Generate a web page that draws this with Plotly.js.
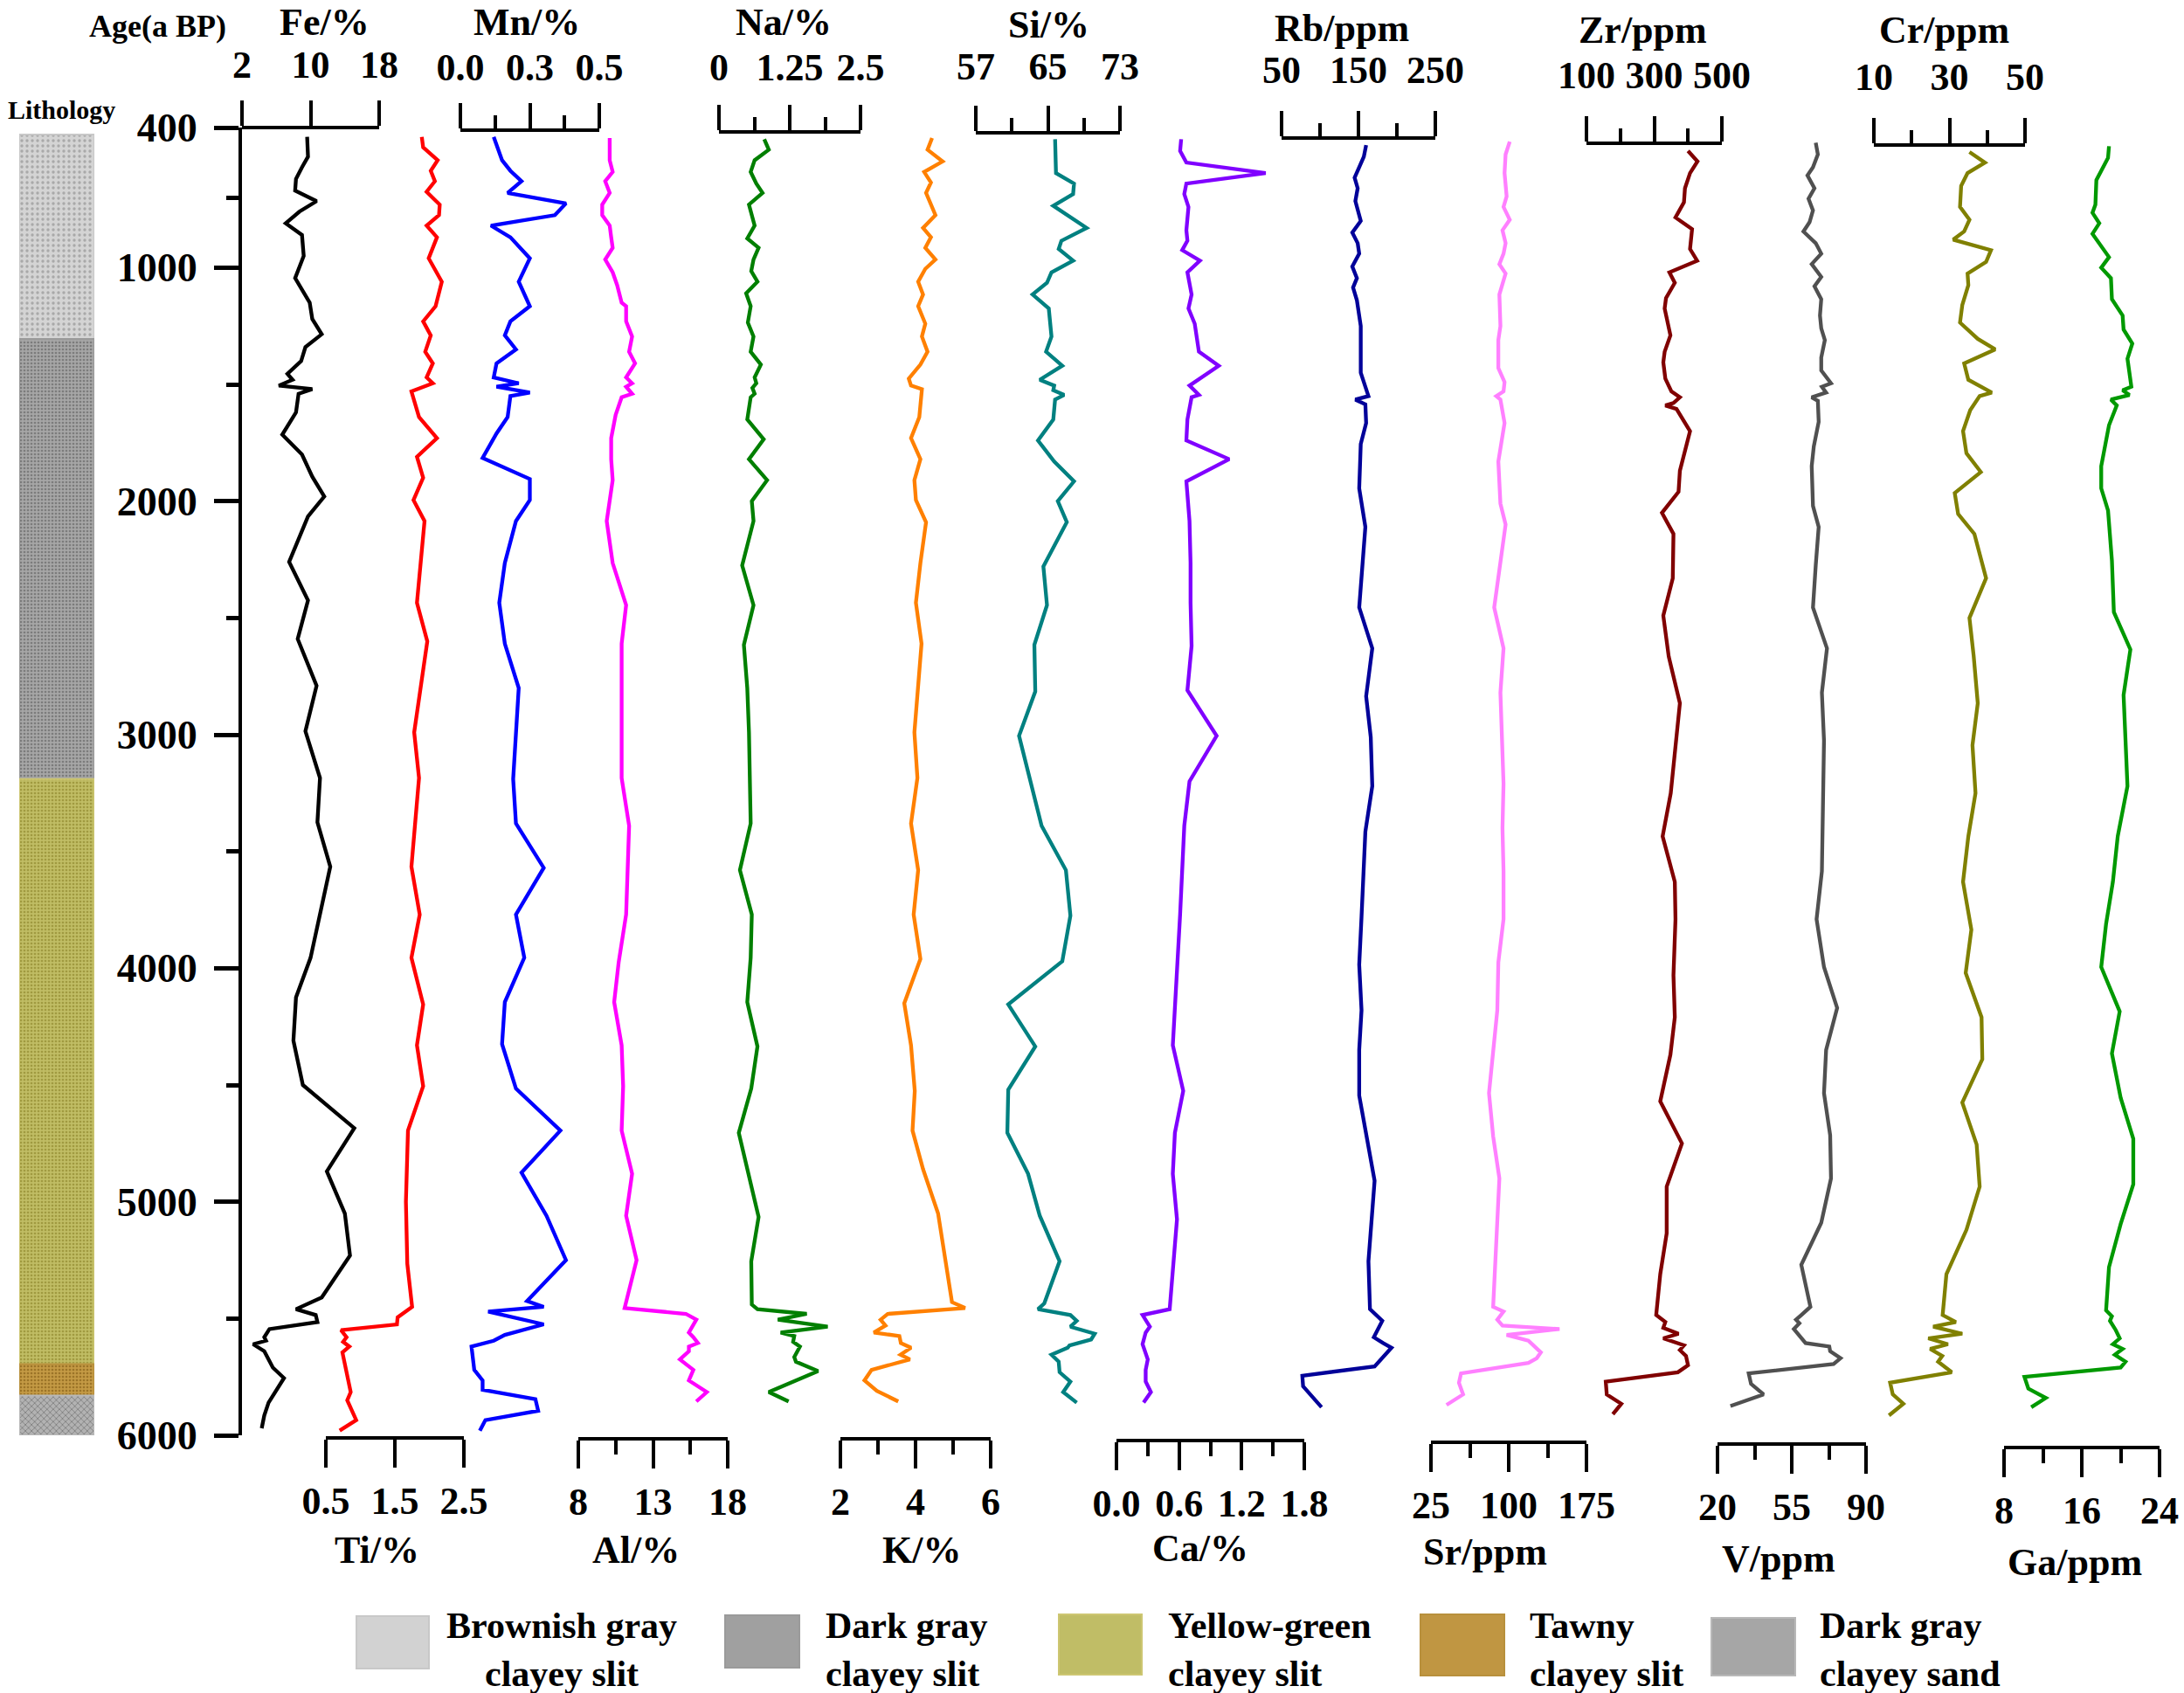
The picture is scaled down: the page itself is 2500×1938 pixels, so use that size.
<!DOCTYPE html>
<html>
<head>
<meta charset="utf-8">
<script src="https://cdn.plot.ly/plotly-3.0.1.min.js"></script>
<style>
  body { margin: 0; background: #fff; }
  #chart { width: 2500px; height: 1938px; }
</style>
</head>
<body>
<div id="chart"></div>
<script>
// ---- data (age in a BP, values in axis units) ----
var feAge = [440,525,570,620,670,715,760,810,860,950,1045,1150,1220,1285,1340,1400,1455,1480,1505,1520,1540,1620,1715,1800,1895,1980,2065,2260,2425,2590,2790,2985,3185,3375,3565,3955,4125,4310,4500,4685,4870,5050,5230,5410,5460,5485,5515,5545,5580,5595,5610,5640,5710,5755,5860,5915,5970];
var feVal = [9.6,9.7,9.0,8.3,8.2,10.7,8.7,7.1,9.0,9.2,8.2,9.9,10.2,11.3,9.4,8.9,7.3,7.9,6.3,10.2,8.6,8.3,6.7,9.0,10.2,11.6,9.7,7.5,9.7,8.5,10.7,9.4,11.1,10.8,12.3,10.0,8.3,8.0,9.1,15.1,11.9,14.0,14.6,11.3,8.3,10.6,10.8,5.2,4.6,4.8,3.3,4.6,5.6,6.9,5.1,4.6,4.3];

var tiAge = [440,485,540,585,630,675,730,775,820,870,960,1060,1165,1230,1290,1360,1410,1470,1495,1530,1640,1730,1810,1900,1995,2085,2435,2600,2990,3185,3565,3770,3955,4155,4330,4505,4695,5000,5265,5450,5495,5525,5550,5580,5600,5620,5645,5750,5815,5850,5935,5980];
var tiVal = [1.89,1.91,2.12,2.02,2.08,1.96,2.15,2.14,1.96,2.11,1.99,2.18,2.09,1.91,2.02,1.94,2.05,1.96,2.05,1.74,1.85,2.11,1.82,1.91,1.77,1.93,1.82,1.97,1.78,1.85,1.74,1.86,1.74,1.91,1.82,1.91,1.69,1.66,1.68,1.75,1.54,1.53,0.72,0.80,0.75,0.84,0.74,0.81,0.86,0.81,0.94,0.70];

var mnAge = [440,540,585,630,680,725,775,820,870,960,1060,1165,1230,1290,1350,1410,1470,1495,1510,1535,1550,1640,1710,1815,1905,1995,2085,2265,2435,2610,2800,3000,3190,3380,3570,3770,3955,4145,4325,4515,4695,4875,5060,5250,5425,5450,5470,5525,5570,5595,5620,5720,5765,5805,5845,5895,5935,5980];
var mnVal = [0.12,0.15,0.18,0.22,0.17,0.38,0.34,0.11,0.18,0.25,0.21,0.25,0.18,0.16,0.20,0.13,0.12,0.21,0.13,0.25,0.18,0.17,0.13,0.08,0.25,0.25,0.20,0.16,0.14,0.16,0.21,0.20,0.19,0.20,0.30,0.20,0.23,0.16,0.15,0.20,0.36,0.22,0.31,0.38,0.24,0.30,0.10,0.30,0.16,0.12,0.04,0.05,0.08,0.08,0.27,0.28,0.09,0.07];

var alAge = [445,540,590,630,680,730,775,820,870,915,965,1020,1075,1150,1165,1230,1295,1360,1410,1470,1495,1510,1540,1555,1630,1730,1820,1910,2085,2265,2445,2610,2800,3185,3390,3770,3975,4145,4330,4505,4695,4880,5060,5250,5455,5480,5505,5560,5580,5605,5620,5640,5675,5720,5765,5815,5855];
var alVal = [10.1,10.1,10.3,9.8,10.1,9.6,9.6,10.1,10.2,10.3,9.8,10.3,10.6,10.9,11.2,11.2,11.6,11.4,11.8,11.2,11.6,11.2,11.6,10.9,10.5,10.2,10.2,10.3,9.9,10.3,11.2,10.9,10.9,10.9,11.4,11.2,10.7,10.4,10.9,11.0,10.9,11.6,11.2,11.9,11.1,15.2,15.9,15.4,15.7,16.0,15.4,15.4,14.8,15.7,15.4,16.6,15.9];

var naAge = [450,495,540,590,640,680,730,820,875,915,965,1015,1060,1110,1165,1235,1295,1360,1415,1470,1495,1515,1540,1555,1650,1735,1820,1910,2000,2085,2275,2445,2615,2800,2990,3380,3580,3770,3955,4145,4335,4515,4705,5065,5255,5440,5460,5480,5505,5535,5560,5575,5600,5620,5665,5685,5725,5765,5815,5855];
var naVal = [0.80,0.88,0.63,0.56,0.66,0.77,0.53,0.63,0.50,0.70,0.61,0.57,0.68,0.48,0.56,0.51,0.61,0.56,0.74,0.63,0.66,0.59,0.63,0.56,0.50,0.79,0.53,0.85,0.58,0.61,0.41,0.61,0.44,0.50,0.53,0.56,0.37,0.58,0.56,0.50,0.68,0.57,0.35,0.70,0.57,0.58,0.68,1.55,1.04,1.92,1.09,1.33,1.31,1.43,1.33,1.36,1.75,1.37,0.88,1.23];

var kAge = [445,495,545,590,635,680,775,830,870,915,965,1005,1060,1115,1165,1240,1295,1360,1415,1475,1505,1520,1640,1730,1820,1910,1995,2090,2265,2435,2610,2810,2990,3185,3380,3580,3770,3960,4150,4330,4525,4695,4860,5050,5430,5455,5480,5505,5530,5560,5575,5605,5625,5655,5675,5720,5765,5810,5855];
var kVal = [4.44,4.32,4.72,4.23,4.41,4.28,4.53,4.20,4.41,4.26,4.53,4.26,4.07,4.20,4.07,4.26,4.17,4.32,4.13,3.82,3.88,4.17,4.10,3.88,4.13,3.97,4.01,4.28,4.13,4.01,4.16,4.07,3.97,4.05,3.88,4.07,3.95,4.13,3.70,3.88,3.98,3.92,4.20,4.60,4.97,5.32,3.26,3.07,3.20,2.89,3.57,3.61,3.88,3.60,3.85,2.83,2.64,2.97,3.54];

var siAge = [450,595,640,685,735,830,885,920,970,1020,1065,1115,1175,1295,1360,1420,1480,1505,1525,1545,1565,1650,1740,1830,1915,2000,2090,2280,2445,2615,2815,3005,3390,3580,3775,3970,4155,4335,4520,4705,4880,5060,5255,5435,5460,5485,5510,5535,5565,5590,5615,5625,5655,5685,5730,5770,5815,5860];
var siVal = [65.8,65.9,67.9,67.8,65.6,69.3,66.5,66.2,67.8,65.4,64.9,63.3,65.1,65.4,64.8,66.6,64.1,65.7,65.6,66.8,65.8,65.6,63.9,65.7,67.9,66.1,67.1,64.5,64.9,63.5,63.6,61.8,64.3,67.0,67.5,66.6,60.6,63.6,60.6,60.5,62.8,64.1,66.3,64.6,63.9,67.5,68.2,67.5,70.2,69.8,67.4,67.2,65.4,66.2,66.3,67.5,66.7,68.2];

var caAge = [450,500,550,595,640,685,740,840,885,925,970,1020,1115,1175,1240,1360,1420,1505,1545,1555,1650,1740,1820,1915,2085,2265,2435,2620,2810,3005,3200,3390,3770,4330,4525,4705,4880,5075,5460,5485,5535,5560,5610,5675,5720,5770,5815,5860];
var caVal = [0.62,0.61,0.67,1.43,0.67,0.65,0.69,0.67,0.68,0.63,0.80,0.68,0.72,0.69,0.75,0.79,0.98,0.70,0.79,0.72,0.68,0.67,1.08,0.67,0.70,0.71,0.71,0.72,0.68,0.96,0.70,0.65,0.61,0.54,0.64,0.56,0.54,0.58,0.51,0.25,0.32,0.28,0.25,0.30,0.28,0.28,0.33,0.26];

var rbAge = [475,525,615,660,715,800,850,895,940,995,1045,1085,1140,1250,1450,1505,1550,1565,1585,1665,1755,1945,2110,2455,2630,2835,3010,3220,3415,3780,3985,4180,4350,4545,4910,5255,5460,5510,5580,5605,5625,5705,5745,5790,5880];
var rbVal = [160,157,145,149,146,153,142,149,151,142,148,143,148,153,153,159,163,146,159,160,153,151,159,151,168,160,166,168,159,154,151,154,151,151,171,163,165,181,170,182,193,171,77,78,102];

var srAge = [460,515,595,695,740,795,840,895,940,985,1025,1115,1250,1310,1430,1490,1530,1550,1565,1665,1830,2010,2100,2455,2630,2820,3210,3400,3585,3790,3975,4180,4535,4720,4900,5095,5450,5470,5505,5530,5545,5570,5595,5645,5670,5690,5735,5775,5825,5870];
var srVal = [101,97,96,98,95,101,94,97,95,91,97,91,92,90,90,96,95,88,92,96,90,92,97,86,95,92,95,94,95,95,90,89,81,85,91,89,85,95,89,94,149,98,119,131,127,119,54,52,56,40];

var zrAge = [500,545,595,660,720,785,835,920,970,1020,1065,1130,1175,1290,1360,1405,1475,1530,1555,1580,1590,1605,1700,1870,1960,2050,2140,2330,2490,2665,2865,3250,3435,3630,3790,4030,4210,4370,4570,4750,4935,5135,5310,5485,5515,5540,5565,5585,5615,5635,5660,5700,5730,5770,5825,5865,5910];
var zrVal = [400,428,406,391,388,363,412,406,427,345,361,335,331,348,331,327,333,351,376,357,333,366,406,376,372,323,357,355,327,343,376,349,325,361,363,357,361,348,318,382,337,337,318,306,333,327,372,327,388,376,394,400,370,157,160,203,178];

var vAge = [465,515,570,605,660,705,755,805,845,895,940,985,1040,1080,1135,1205,1260,1310,1385,1440,1495,1510,1535,1555,1570,1660,1765,1850,2020,2110,2275,2455,2630,2820,3025,3305,3585,3790,3995,4170,4350,4535,4715,4900,5090,5270,5450,5485,5505,5520,5545,5605,5620,5640,5670,5695,5735,5780,5825,5875];
var vVal = [66.3,67.3,65.0,62.4,65.7,62.9,65.0,63.4,60.5,66.3,68.9,64.4,68.9,65.7,68.9,68.3,68.9,70.6,68.9,68.9,73.5,69.2,71.2,64.4,67.3,67.7,65.4,64.4,65.0,67.7,66.3,65.0,71.6,69.2,70.2,69.6,69.2,66.7,70.2,76.4,71.2,70.2,73.1,73.5,68.9,59.5,63.8,59.5,57.0,58.6,56.0,61.5,72.7,73.1,78.0,74.7,34.7,35.8,41.7,26.1];

var crAge = [505,550,595,650,740,795,845,880,925,975,1025,1075,1160,1235,1305,1350,1410,1480,1535,1550,1610,1700,1795,1875,1965,2055,2140,2330,2500,2660,2865,3045,3250,3435,3630,3835,4020,4210,4390,4575,4755,4935,5120,5310,5485,5515,5535,5565,5585,5610,5630,5660,5685,5730,5775,5825,5865,5915];
var crVal = [35.3,39.4,34.8,33.1,32.8,35.3,33.9,31.0,41.0,39.7,34.8,35.0,33.4,32.8,37.5,42.1,33.9,35.0,41.2,38.0,35.5,33.6,34.5,38.3,31.4,32.3,36.6,39.7,35.3,36.4,37.5,36.1,36.9,35.0,33.6,35.8,34.3,38.5,38.7,33.4,37.2,38.0,34.5,29.2,28.2,31.7,25.7,33.4,24.4,29.6,24.9,28.1,27.0,30.6,14.3,15.0,17.8,14.0];

var gaAge = [480,530,625,730,765,810,855,905,955,1000,1045,1135,1205,1265,1325,1390,1510,1525,1545,1565,1590,1675,1850,1945,2040,2255,2475,2635,2830,3220,3435,3630,3810,3995,4185,4365,4555,4730,4925,5095,5280,5465,5490,5510,5550,5585,5610,5630,5655,5685,5710,5750,5800,5840,5880];
var gaVal = [18.8,18.7,17.5,17.4,17.1,17.8,17.1,18.0,18.8,18.0,19.0,19.1,20.2,20.3,21.2,20.7,21.1,20.2,20.9,19.0,19.6,18.8,18.0,18.0,18.7,19.1,19.3,21.0,20.3,20.7,19.7,19.2,18.5,18.0,19.9,19.1,20.0,21.3,21.3,20.0,18.8,18.5,19.1,18.9,19.5,19.9,19.2,20.2,19.4,20.5,20.0,10.1,10.5,12.3,10.8];

// lithology column
var lithoTop    = [430, 1305, 3190, 5695, 5830];
var lithoBottom = [1305, 3190, 5695, 5830, 6000];
var lithoName   = ['Brownish gray<br>clayey slit', 'Dark gray<br>clayey slit', 'Yellow-green<br>clayey slit', 'Tawny<br>clayey slit', 'Dark gray<br>clayey sand'];

// age axis ticks
var ageMajor = [400, 1000, 2000, 3000, 4000, 5000, 6000];
var ageMinor = [700, 1500, 2500, 3500, 4500, 5500];

// ---- page geometry (pixels of the 2500 x 1938 figure) ----
var W = 2500, H = 1938;
function fx(p) { return p / W; }
function fy(p) { return 1 - p / H; }

var serif = 'Liberation Serif, Times New Roman, serif';
var tickFont = {family: serif, size: 44, color: 'black', weight: 'bold'};
var titleFont = {family: serif, size: 44, color: 'black', weight: 'bold'};

function elemAxis(side, x0, x1, yLine, range, major, labels, minor, standoff) {
    var ax = {
        domain: [fx(x0), fx(x1)],
        range: range,
        anchor: 'free',
        position: fy(yLine),
        side: side,
        showline: true, linewidth: 4, linecolor: 'black',
        ticks: 'outside', ticklen: side == 'top' ? 29 : 32, tickwidth: 4, tickcolor: 'black',
        tickmode: 'array', tickvals: major, ticktext: labels, tickangle: 0,
        tickfont: tickFont,
        ticklabelstandoff: standoff,
        showgrid: false, zeroline: false, fixedrange: true
    };
    if (minor) {
        ax.minor = {tickmode: 'array', tickvals: minor, ticks: 'outside',
                    ticklen: side == 'top' ? 15 : 16, tickwidth: 4, tickcolor: 'black', showgrid: false};
    }
    return ax;
}

// element tracks: [age, values, color, axis]
var tracks = [
    [feAge, feVal, '#000000', 'x'],
    [tiAge, tiVal, '#ff0000', 'x2'],
    [mnAge, mnVal, '#0000ff', 'x3'],
    [alAge, alVal, '#ff00ff', 'x4'],
    [naAge, naVal, '#007f00', 'x5'],
    [kAge,  kVal,  '#ff8000', 'x6'],
    [siAge, siVal, '#008080', 'x7'],
    [caAge, caVal, '#8000ff', 'x8'],
    [rbAge, rbVal, '#000099', 'x9'],
    [srAge, srVal, '#ff80ff', 'x10'],
    [zrAge, zrVal, '#800000', 'x11'],
    [vAge,  vVal,  '#505050', 'x12'],
    [crAge, crVal, '#808000', 'x13'],
    [gaAge, gaVal, '#009900', 'x14']
];

var traces = [];
tracks.forEach(function (t) {
    traces.push({
        x: t[1], y: t[0], xaxis: t[3], yaxis: 'y',
        type: 'scatter', mode: 'lines',
        line: {color: t[2], width: 4.3},
        hoverinfo: 'skip', showlegend: false
    });
});

// lithology bars with dotted fills
var lithoStyle = [
    {bg: '#d4d4d4', fg: '#a9a9a9', shape: '.', size: 6, sol: 0.25, line: '#c8c8c8'},
    {bg: '#a6a6a6', fg: '#7c7c7c', shape: '.', size: 4, sol: 0.35, line: '#9a9a9a'},
    {bg: '#c0bd64', fg: '#a09a40', shape: '.', size: 4, sol: 0.35, line: '#cdc672'},
    {bg: '#c49a44', fg: '#9c7428', shape: '.', size: 4, sol: 0.35, line: '#b8903c'},
    {bg: '#b2b2b2', fg: '#5e5e5e', shape: 'x', size: 5, sol: 0.2, line: '#b8b8b8'}
];
lithoTop.forEach(function (top, i) {
    var s = lithoStyle[i];
    traces.push({
        type: 'bar', x: [0], y: [lithoBottom[i] - top], base: [top], width: [1],
        xaxis: 'x15', yaxis: 'y',
        marker: {color: s.bg, line: {color: s.line, width: 2},
                 pattern: {shape: s.shape, fgcolor: s.fg, bgcolor: s.bg, size: s.size, solidity: s.sol}},
        hoverinfo: 'skip', showlegend: false
    });
});

var layout = {
    width: W, height: H,
    margin: {l: 0, r: 0, t: 0, b: 0},
    paper_bgcolor: 'white',
    plot_bgcolor: 'rgba(0,0,0,0)',
    showlegend: false,
    barmode: 'overlay',
    hovermode: false,

    yaxis: {
        domain: [fy(1643), fy(146)],
        range: [6000, 400],
        anchor: 'x', side: 'left',
        showline: true, linewidth: 4, linecolor: 'black',
        ticks: 'outside', ticklen: 28, tickwidth: 5, tickcolor: 'black',
        tickmode: 'array', tickvals: ageMajor, ticktext: ageMajor.map(String),
        tickfont: {family: serif, size: 46, color: 'black', weight: 'bold'}, ticklabelstandoff: 10,
        minor: {tickmode: 'array', tickvals: ageMinor, ticks: 'outside', ticklen: 14, tickwidth: 5, tickcolor: 'black'},
        showgrid: false, zeroline: false, fixedrange: true
    },

    xaxis:   elemAxis('top',    277,  434, 146, [2, 18],     [2, 10, 18],        ['2', '10', '18'],          null, 8),
    xaxis2:  elemAxis('bottom', 373,  531, 1646, [0.5, 2.5], [0.5, 1.5, 2.5],    ['0.5', '1.5', '2.5'],      null, 0),
    xaxis3:  elemAxis('top',    527,  686, 149, [0, 0.5],    [0, 0.25, 0.5],     ['0.0', '0.3', '0.5'],      [0.125, 0.375], 8),
    xaxis4:  elemAxis('bottom', 662,  833, 1647, [8, 18],    [8, 13, 18],        ['8', '13', '18'],          [10.5, 15.5], 0),
    xaxis5:  elemAxis('top',    823,  985, 151, [0, 2.5],    [0, 1.25, 2.5],     ['0', '1.25', '2.5'],       [0.625, 1.875], 10),
    xaxis6:  elemAxis('bottom', 962, 1134, 1647, [2, 6],     [2, 4, 6],          ['2', '4', '6'],            [3, 5], 0),
    xaxis7:  elemAxis('top',   1117, 1282, 152, [57, 73],    [57, 65, 73],       ['57', '65', '73'],         [61, 69], 12),
    xaxis8:  elemAxis('bottom',1278, 1493, 1649, [0, 1.8],   [0, 0.6, 1.2, 1.8], ['0.0', '0.6', '1.2', '1.8'], [0.3, 0.9, 1.5], 0),
    xaxis9:  elemAxis('top',   1467, 1643, 158, [50, 250],   [50, 150, 250],     ['50', '150', '250'],       [100, 200], 14),
    xaxis10: elemAxis('bottom',1638, 1816, 1651, [25, 175],  [25, 100, 175],     ['25', '100', '175'],       [62.5, 137.5], 0),
    xaxis11: elemAxis('top',   1816, 1971, 164, [100, 500],  [100, 300, 500],    ['100', '300', '500'],      [200, 400], 14),
    xaxis12: elemAxis('bottom',1966, 2136, 1653, [20, 90],   [20, 55, 90],       ['20', '55', '90'],         [37.5, 72.5], 0),
    xaxis13: elemAxis('top',   2145, 2318, 166, [10, 50],    [10, 30, 50],       ['10', '30', '50'],         [20, 40], 14),
    xaxis14: elemAxis('bottom',2294, 2472, 1657, [8, 24],    [8, 16, 24],        ['8', '16', '24'],          [12, 20], 0),
    xaxis15: {domain: [fx(22), fx(108)], range: [-0.5, 0.5], anchor: 'y', visible: false, fixedrange: true},

    annotations: [],
    shapes: []
};

// axis titles
var titles = [
    ['Fe/%', 371, 25], ['Mn/%', 603, 25], ['Na/%', 897, 26], ['Si/%', 1200, 28],
    ['Rb/ppm', 1536, 32], ['Zr/ppm', 1880, 34], ['Cr/ppm', 2225, 34],
    ['Ti/%', 431, 1774], ['Al/%', 728, 1774], ['K/%', 1055, 1774], ['Ca/%', 1374, 1772],
    ['Sr/ppm', 1700, 1776], ['V/ppm', 2036, 1784], ['Ga/ppm', 2375, 1788]
];
titles.forEach(function (t) {
    layout.annotations.push({
        text: t[0], x: fx(t[1]), y: fy(t[2]), xref: 'paper', yref: 'paper',
        xanchor: 'center', yanchor: 'middle', showarrow: false, font: titleFont
    });
});
layout.annotations.push({
    text: 'Age(a BP)', x: fx(180), y: fy(30), xref: 'paper', yref: 'paper',
    xanchor: 'center', yanchor: 'middle', showarrow: false,
    font: {family: serif, size: 36, color: 'black', weight: 'bold'}
});
layout.annotations.push({
    text: 'Lithology', x: fx(70), y: fy(126), xref: 'paper', yref: 'paper',
    xanchor: 'center', yanchor: 'middle', showarrow: false,
    font: {family: serif, size: 30, color: 'black', weight: 'bold'}
});

// legend for the lithology column
var legendBox = [
    [408, 1850, 491, 1910], [830, 1849, 915, 1909], [1212, 1848, 1307, 1917],
    [1626, 1848, 1722, 1918], [1959, 1852, 2055, 1918]
];
var legendFill = ['#d2d2d2', '#a0a0a0', '#c0bd66', '#c09642', '#a6a6a6'];
var legendText = [[643, 'center'], [943, 'left'], [1335, 'left'], [1749, 'left'], [2081, 'left']];
legendBox.forEach(function (b, i) {
    layout.shapes.push({
        type: 'rect', xref: 'paper', yref: 'paper',
        x0: fx(b[0]), x1: fx(b[2]), y0: fy(b[3]), y1: fy(b[1]),
        fillcolor: legendFill[i], line: {color: lithoStyle[i].line, width: 2}
    });
    layout.annotations.push({
        text: lithoName[i], x: fx(legendText[i][0]), y: fy(1888), xref: 'paper', yref: 'paper',
        xanchor: legendText[i][1] == 'center' ? 'center' : 'left', align: legendText[i][1],
        yanchor: 'middle', showarrow: false,
        font: {family: serif, size: 42, color: 'black', weight: 'bold'}
    });
});

Plotly.newPlot('chart', traces, layout, {displayModeBar: false, staticPlot: true});
</script>
</body>
</html>
